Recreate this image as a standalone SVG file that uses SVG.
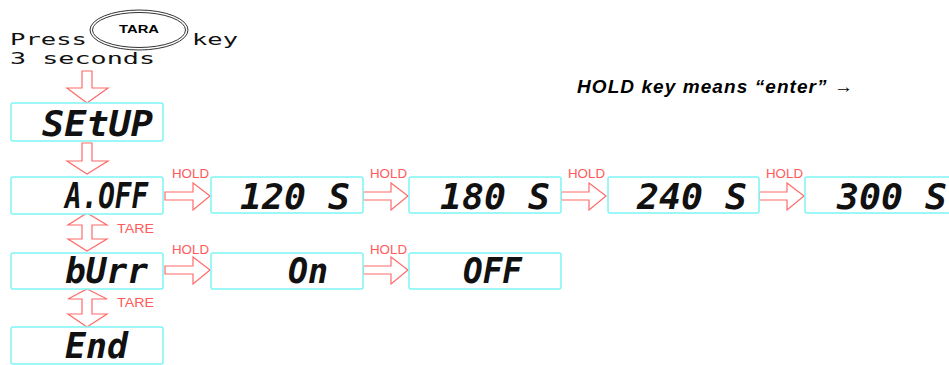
<svg xmlns="http://www.w3.org/2000/svg" width="949" height="365" viewBox="0 0 949 365">
<style>
.box{fill:#fff;stroke:#7ff5f5;stroke-width:1.5}
.lcd{font-family:"DejaVu Sans Mono",monospace;font-weight:bold;font-style:oblique;font-size:36px;fill:#111}
.arr{fill:#fff;stroke:#ff6b6b;stroke-width:1.2}
.lbl{font-family:"Liberation Sans",Arial,sans-serif;font-size:12px;fill:#ff5a5a}
.mono{font-family:"DejaVu Sans Mono",monospace;font-size:16px;fill:#111}
</style>
<rect width="949" height="365" fill="#fff"/>
<g id="press">
<text class="mono" x="10" y="45" textLength="77" lengthAdjust="spacingAndGlyphs">Press</text>
<text class="mono" x="192" y="45" textLength="46" lengthAdjust="spacingAndGlyphs">key</text>
<text class="mono" x="10" y="64" textLength="145" lengthAdjust="spacingAndGlyphs">3 seconds</text>
<ellipse cx="139" cy="30" rx="49" ry="20" fill="none" stroke="#333" stroke-width="1"/>
<ellipse cx="139" cy="30" rx="46.5" ry="17.5" fill="none" stroke="#333" stroke-width="1"/>
<text x="119" y="33" font-family="Liberation Sans,Arial,sans-serif" font-weight="bold" font-size="11" textLength="40" lengthAdjust="spacingAndGlyphs">TARA</text>
</g>
<text x="577" y="93" font-family="Liberation Sans,Arial,sans-serif" font-weight="bold" font-style="italic" font-size="19" textLength="276" lengthAdjust="spacing">HOLD key means “enter” →</text>
<g id="connectors">
<polygon class="arr" points="82,71 92,71 92,88 108,88 87,103 67,88 82,88"/>
<polygon class="arr" points="82,143 92,143 92,161 108,161 87,174 67,161 82,161"/>
<polygon class="arr" points="87,213 107,225 92,225 92,239 107,239 87,251 68,239 82,239 82,225 68,225"/>
<polygon class="arr" points="87,289 107,299 92,299 92,314 107,314 87,327 68,314 82,314 82,299 68,299"/>
<text class="lbl" x="117" y="233" textLength="37" lengthAdjust="spacingAndGlyphs">TARE</text>
<text class="lbl" x="117" y="307" textLength="37" lengthAdjust="spacingAndGlyphs">TARE</text>
<polygon class="arr" points="165,192 193,192 193,183 210,196 193,210 193,200 165,200"/>
<polygon class="arr" points="363,192 391,192 391,183 408,196 391,210 391,200 363,200"/>
<polygon class="arr" points="561,192 589,192 589,183 606,196 589,210 589,200 561,200"/>
<polygon class="arr" points="759,192 787,192 787,183 804,196 787,210 787,200 759,200"/>
<polygon class="arr" points="165,266 193,266 193,257 210,270 193,284 193,274 165,274"/>
<polygon class="arr" points="363,266 391,266 391,257 408,270 391,284 391,274 363,274"/>
<text class="lbl" x="172" y="178" textLength="37" lengthAdjust="spacingAndGlyphs">HOLD</text>
<text class="lbl" x="370" y="178" textLength="37" lengthAdjust="spacingAndGlyphs">HOLD</text>
<text class="lbl" x="568" y="178" textLength="37" lengthAdjust="spacingAndGlyphs">HOLD</text>
<text class="lbl" x="766" y="178" textLength="37" lengthAdjust="spacingAndGlyphs">HOLD</text>
<text class="lbl" x="172" y="254" textLength="37" lengthAdjust="spacingAndGlyphs">HOLD</text>
<text class="lbl" x="370" y="254" textLength="37" lengthAdjust="spacingAndGlyphs">HOLD</text>
</g>
<g id="setup"><rect class="box" x="11" y="103" width="152" height="38" rx="2"/><text class="lcd" x="42" y="136" textLength="111" lengthAdjust="spacingAndGlyphs">SEtUP</text></g>
<g id="aoff"><rect class="box" x="11" y="177" width="152" height="37" rx="2"/><text class="lcd" x="65" y="208" textLength="83" lengthAdjust="spacingAndGlyphs">A.OFF</text></g>
<g id="s120"><rect class="box" x="211" y="177" width="152" height="36" rx="2"/><text class="lcd" x="240" y="209" textLength="110" lengthAdjust="spacingAndGlyphs">120 S</text></g>
<g id="s180"><rect class="box" x="409" y="177" width="152" height="36" rx="2"/><text class="lcd" x="440" y="209" textLength="110" lengthAdjust="spacingAndGlyphs">180 S</text></g>
<g id="s240"><rect class="box" x="608" y="177" width="151" height="36" rx="2"/><text class="lcd" x="637" y="209" textLength="110" lengthAdjust="spacingAndGlyphs">240 S</text></g>
<g id="s300"><rect class="box" x="805" y="177" width="152" height="36" rx="2"/><text class="lcd" x="837" y="209" textLength="110" lengthAdjust="spacingAndGlyphs">300 S</text></g>
<g id="burr"><rect class="box" x="11" y="253" width="152" height="36" rx="2"/><text class="lcd" x="65" y="283" textLength="83" lengthAdjust="spacingAndGlyphs">bUrr</text></g>
<g id="on"><rect class="box" x="211" y="253" width="152" height="36" rx="2"/><text class="lcd" x="288" y="283" textLength="40" lengthAdjust="spacingAndGlyphs">On</text></g>
<g id="off"><rect class="box" x="409" y="253" width="152" height="36" rx="2"/><text class="lcd" x="463" y="283" textLength="59" lengthAdjust="spacingAndGlyphs">OFF</text></g>
<g id="end"><rect class="box" x="11" y="327" width="152" height="37" rx="2"/><text class="lcd" x="65" y="358" textLength="63" lengthAdjust="spacingAndGlyphs">End</text></g>
</svg>
